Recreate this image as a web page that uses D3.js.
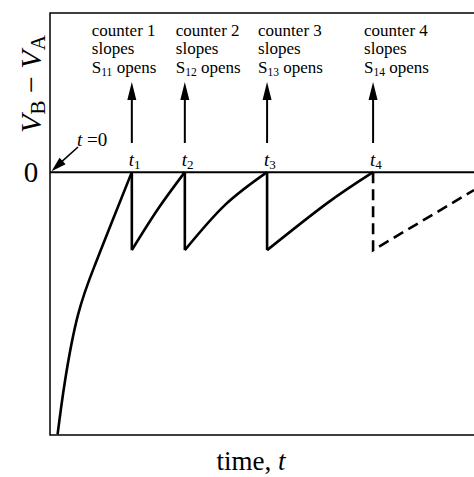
<!DOCTYPE html>
<html>
<head>
<meta charset="utf-8">
<script src="https://cdn.jsdelivr.net/npm/d3@7"></script>
<style>
  html, body { margin: 0; padding: 0; background: #fff; }
  svg { display: block; }
  text { font-family: "Liberation Serif", "Times New Roman", serif; fill: #000; }
</style>
</head>
<body>
<svg id="chart" width="474" height="477"></svg>
<script>
"use strict";

// instants where each counter slopes (time units)
const switchTimes = [1.93, 3.18, 5.12, 7.62];
const counterNums = ["1", "2", "3", "4"];
const switchIds = ["11", "12", "13", "14"];

// V_B - V_A : first rise from the bottom up to zero
const initialCurve = [[0.18, -3.36], [0.35, -2.69], [0.66, -1.83], [1.06, -1.19], [1.46, -0.64], [1.93, 0]];
// ramps between resets (start, middle, end)
const ramps = [
  [[1.93, -1], [2.55, -0.47], [3.18, 0]],
  [[3.18, -1], [4.13, -0.42], [5.12, 0]],
  [[5.12, -1], [6.53, -0.40], [7.62, 0]]
];
const resetLevel = -1;
// dashed continuation after t4
const dashedPart = [[7.62, 0], [7.62, -1], [10, -0.23]];

// layout
const W = 474, H = 477;
const frameLeft = 50, frameTop = 13, frameBottom = 435;
const labelShift = [-40, -9, -9, -9];

const svg = d3.select("#chart");
const x = d3.scaleLinear().domain([0, 10]).range([frameLeft, W]);
const y = d3.scaleLinear().domain([-3.37, 2.04]).range([frameBottom, frameTop]);

const line = d3.line().x(d => x(d[0])).y(d => y(d[1]));
const smooth = d3.line().x(d => x(d[0])).y(d => y(d[1])).curve(d3.curveNatural);

// frame (open on the right)
svg.append("path")
  .attr("d", `M${W} ${frameTop} H${frameLeft} V${frameBottom} H${W}`)
  .attr("fill", "none").attr("stroke", "#000").attr("stroke-width", 1.5);

// zero line
svg.append("line")
  .attr("x1", frameLeft).attr("x2", W).attr("y1", y(0)).attr("y2", y(0))
  .attr("stroke", "#000").attr("stroke-width", 2);

const g = svg.append("g").attr("fill", "none").attr("stroke", "#000")
  .attr("stroke-width", 2.6).attr("stroke-linejoin", "miter");

g.append("path").attr("d", smooth(initialCurve));
ramps.forEach(r => g.append("path").attr("d", smooth(r)));
switchTimes.slice(0, 3).forEach(t => {
  g.append("path").attr("d", line([[t, 0], [t, resetLevel]]));
});
g.append("path").attr("d", line(dashedPart)).attr("stroke-dasharray", "11,6");

// arrows + labels per counter
switchTimes.forEach((t, i) => {
  const cx = x(t);
  svg.append("line")
    .attr("x1", cx).attr("x2", cx).attr("y1", 143).attr("y2", 96)
    .attr("stroke", "#000").attr("stroke-width", 2);
  svg.append("path")
    .attr("d", `M${cx} 82 L${cx - 4.5} 100 L${cx + 4.5} 100 Z`)
    .attr("fill", "#000");

  const tx = cx + labelShift[i];
  const txt = svg.append("text").attr("font-size", 17);
  txt.append("tspan").attr("x", tx).attr("y", 35.5).text("counter " + counterNums[i]);
  txt.append("tspan").attr("x", tx).attr("y", 54).text("slopes");
  const l3 = txt.append("tspan").attr("x", tx).attr("y", 72.5);
  l3.append("tspan").text("S");
  l3.append("tspan").attr("font-size", 11.5).attr("dy", 3.5).text(switchIds[i]);
  l3.append("tspan").attr("dy", -3.5).text(" opens");

  const tl = svg.append("text").attr("x", cx - 3).attr("y", 165.5).attr("font-size", 19);
  tl.append("tspan").attr("font-style", "italic").text("t");
  tl.append("tspan").attr("font-size", 13).attr("dy", 3).text(counterNums[i]);
});

// t = 0 marker
svg.append("line")
  .attr("x1", 78).attr("y1", 147).attr("x2", x(0) + 9).attr("y2", y(0) - 8)
  .attr("stroke", "#000").attr("stroke-width", 1.6);
svg.append("path")
  .attr("d", (() => {
    const tipX = x(0) + 1.5, tipY = y(0) - 1;
    const ang = Math.atan2(147 - tipY, 78 - tipX);
    const len = 15, hw = 4.5;
    const bx = tipX + len * Math.cos(ang), by = tipY + len * Math.sin(ang);
    const px = -Math.sin(ang) * hw, py = Math.cos(ang) * hw;
    return `M${tipX} ${tipY} L${bx + px} ${by + py} L${bx - px} ${by - py} Z`;
  })())
  .attr("fill", "#000");
const t0 = svg.append("text").attr("x", 77).attr("y", 146).attr("font-size", 19);
t0.append("tspan").attr("font-style", "italic").text("t");
t0.append("tspan").text(" =0");

// axis texts
svg.append("text").attr("x", 31).attr("y", y(0) + 10).attr("text-anchor", "middle")
  .attr("font-size", 29).text("0");

const xl = svg.append("text").attr("x", 251).attr("y", 470).attr("text-anchor", "middle")
  .attr("font-size", 27);
xl.append("tspan").text("time, ");
xl.append("tspan").attr("font-style", "italic").text("t");

const yl = svg.append("text").attr("transform", "translate(41,84) rotate(-90)")
  .attr("text-anchor", "middle").attr("font-size", 30);
yl.append("tspan").attr("font-style", "italic").text("V");
yl.append("tspan").attr("font-size", 21).attr("dy", 4).text("B");
yl.append("tspan").attr("dy", -4).text(" \u2212 ");
yl.append("tspan").attr("font-style", "italic").text("V");
yl.append("tspan").attr("font-size", 21).attr("dy", 4).text("A");
</script>
</body>
</html>
